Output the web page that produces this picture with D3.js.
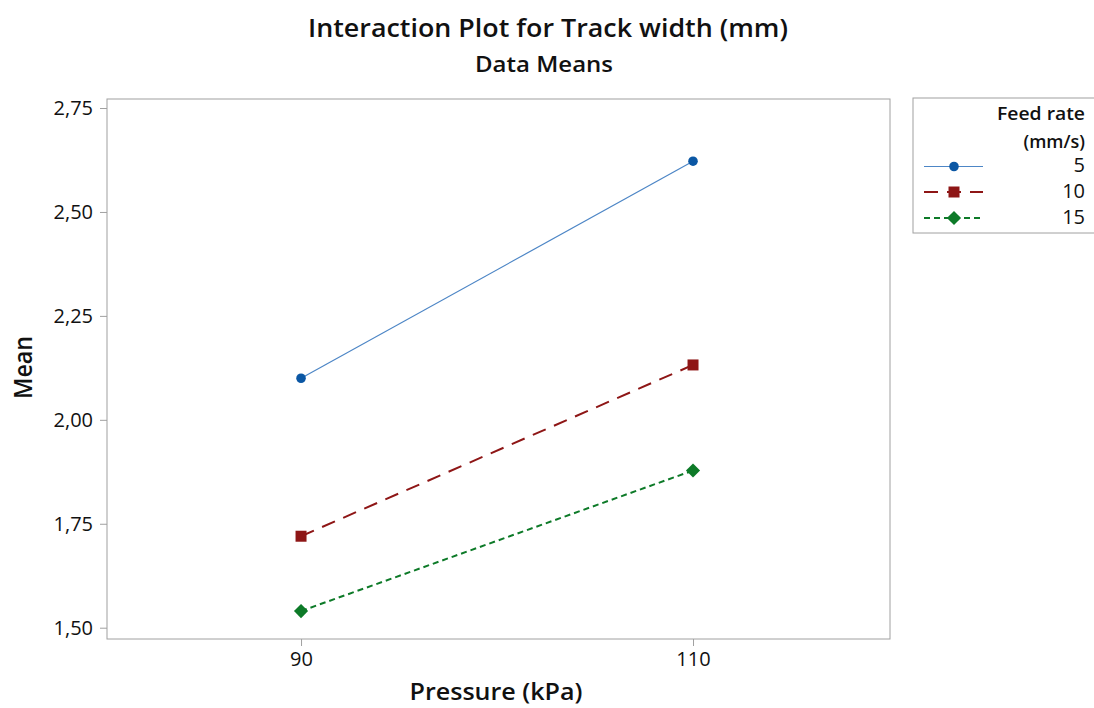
<!DOCTYPE html>
<html>
<head>
<meta charset="utf-8">
<script src="https://cdn.jsdelivr.net/npm/d3@7"></script>
<style>
  html, body { margin: 0; padding: 0; background: #fff; }
  svg { display: block; font-family: "Open Sans", "Noto Sans", sans-serif; }
</style>
</head>
<body>
<svg id="chart" width="1094" height="708"></svg>
<script>
// Pressure levels on the x axis
const pressure = [90, 110];
// Feed rate groups (mm/s)
const feedRates = ["5", "10", "15"];
// Mean track width for each feed rate, at 90 and 110 kPa
const mean5 = [2.10, 2.622];
const mean10 = [1.72, 2.132];
const mean15 = [1.54, 1.878];
const yTicks = [1.50, 1.75, 2.00, 2.25, 2.50, 2.75];
const xTicks = [90, 110];

// Rotated square used as the diamond marker
const symbolDiamondSquare = {
  draw(context, size) {
    const r = Math.sqrt(size) / Math.SQRT2;
    context.moveTo(0, -r);
    context.lineTo(r, 0);
    context.lineTo(0, r);
    context.lineTo(-r, 0);
    context.closePath();
  }
};

const series = [
  { name: feedRates[0], values: mean5, color: "#0b57a4", line: "#4d86c6", width: 1.2, dash: null, shape: d3.symbolCircle, size: 72 },
  { name: feedRates[1], values: mean10, color: "#8e1616", line: "#8e1616", width: 2, dash: "14,9", shape: d3.symbolSquare, size: 121 },
  { name: feedRates[2], values: mean15, color: "#0d7a28", line: "#0d7a28", width: 2, dash: "6,4", shape: symbolDiamondSquare, size: 100 }
];

const svg = d3.select("#chart");
const plot = { left: 107, top: 99, right: 890, bottom: 639 };

const x = d3.scaleLinear().domain([80.1, 120.05]).range([plot.left, plot.right]);
const y = d3.scaleLinear().domain([1.4728, 2.7717]).range([plot.bottom, plot.top]);

const locale = d3.formatLocale({ decimal: ",", thousands: ".", grouping: [3], currency: ["", ""] });
const fmt = locale.format(".2f");

// Plot frame
svg.append("rect")
  .attr("x", plot.left).attr("y", plot.top)
  .attr("width", plot.right - plot.left).attr("height", plot.bottom - plot.top)
  .attr("fill", "none").attr("stroke", "#a0a0a0").attr("stroke-width", 1);

// Y axis
const yAxis = svg.append("g")
  .attr("transform", `translate(${plot.left},0)`)
  .call(d3.axisLeft(y).tickValues(yTicks).tickFormat(fmt).tickSize(7).tickPadding(7));
yAxis.select(".domain").remove();
yAxis.selectAll(".tick line").attr("stroke", "#a0a0a0");
yAxis.selectAll(".tick text").attr("font-size", 20).attr("fill", "#111").attr("font-family", "'Open Sans', sans-serif");

// X axis
const xAxis = svg.append("g")
  .attr("transform", `translate(0,${plot.bottom})`)
  .call(d3.axisBottom(x).tickValues(xTicks).tickFormat(d3.format("d")).tickSize(7).tickPadding(6));
xAxis.select(".domain").remove();
xAxis.selectAll(".tick line").attr("stroke", "#a0a0a0");
xAxis.selectAll(".tick text").attr("font-size", 20).attr("fill", "#111").attr("font-family", "'Open Sans', sans-serif");

// Lines and markers
const line = d3.line().x((d, i) => x(pressure[i])).y(d => y(d));
series.forEach(s => {
  svg.append("path")
    .datum(s.values)
    .attr("d", line)
    .attr("fill", "none")
    .attr("stroke", s.line)
    .attr("stroke-width", s.width)
    .attr("stroke-dasharray", s.dash);
  svg.selectAll(null)
    .data(s.values)
    .enter().append("path")
    .attr("transform", (d, i) => `translate(${x(pressure[i])},${y(d)})`)
    .attr("d", d3.symbol().type(s.shape).size(s.size))
    .attr("fill", s.color);
});

// Titles
svg.append("text").attr("x", 548).attr("y", 37).attr("text-anchor", "middle")
  .attr("font-size", 26).attr("font-weight", 600).attr("fill", "#111")
  .attr("textLength", 480).attr("lengthAdjust", "spacingAndGlyphs")
  .text("Interaction Plot for Track width (mm)");
svg.append("text").attr("x", 544).attr("y", 71.5).attr("text-anchor", "middle")
  .attr("font-size", 22).attr("font-weight", 600).attr("fill", "#111")
  .attr("textLength", 138).attr("lengthAdjust", "spacingAndGlyphs")
  .text("Data Means");
svg.append("text").attr("x", 496).attr("y", 700).attr("text-anchor", "middle")
  .attr("font-size", 24).attr("font-weight", 600).attr("fill", "#111")
  .attr("textLength", 173).attr("lengthAdjust", "spacingAndGlyphs")
  .text("Pressure (kPa)");
svg.append("text").attr("transform", "translate(32,367.5) rotate(-90)").attr("text-anchor", "middle")
  .attr("font-size", 26).attr("font-weight", 600).attr("fill", "#111")
  .attr("textLength", 63).attr("lengthAdjust", "spacingAndGlyphs")
  .text("Mean");

// Legend
const lg = svg.append("g");
lg.append("rect").attr("x", 913).attr("y", 98).attr("width", 190).attr("height", 135)
  .attr("fill", "#fff").attr("stroke", "#a0a0a0").attr("stroke-width", 1);
lg.append("text").attr("x", 1085).attr("y", 120).attr("text-anchor", "end")
  .attr("font-size", 18).attr("font-weight", 600).attr("fill", "#111")
  .attr("textLength", 88).attr("lengthAdjust", "spacingAndGlyphs").text("Feed rate");
lg.append("text").attr("x", 1085).attr("y", 148).attr("text-anchor", "end")
  .attr("font-size", 18).attr("font-weight", 600).attr("fill", "#111").text("(mm/s)");
const rowY = [166.5, 192, 218];
series.forEach((s, i) => {
  lg.append("line").attr("x1", 924).attr("x2", 983).attr("y1", rowY[i]).attr("y2", rowY[i])
    .attr("stroke", s.line).attr("stroke-width", s.width).attr("stroke-dasharray", s.dash);
  lg.append("path").attr("transform", `translate(954,${rowY[i]})`)
    .attr("d", d3.symbol().type(s.shape).size(s.size)).attr("fill", s.color);
  lg.append("text").attr("x", 1085).attr("y", rowY[i] + 5.5).attr("text-anchor", "end")
    .attr("font-size", 20).attr("fill", "#111").text(s.name);
});
</script>
</body>
</html>
